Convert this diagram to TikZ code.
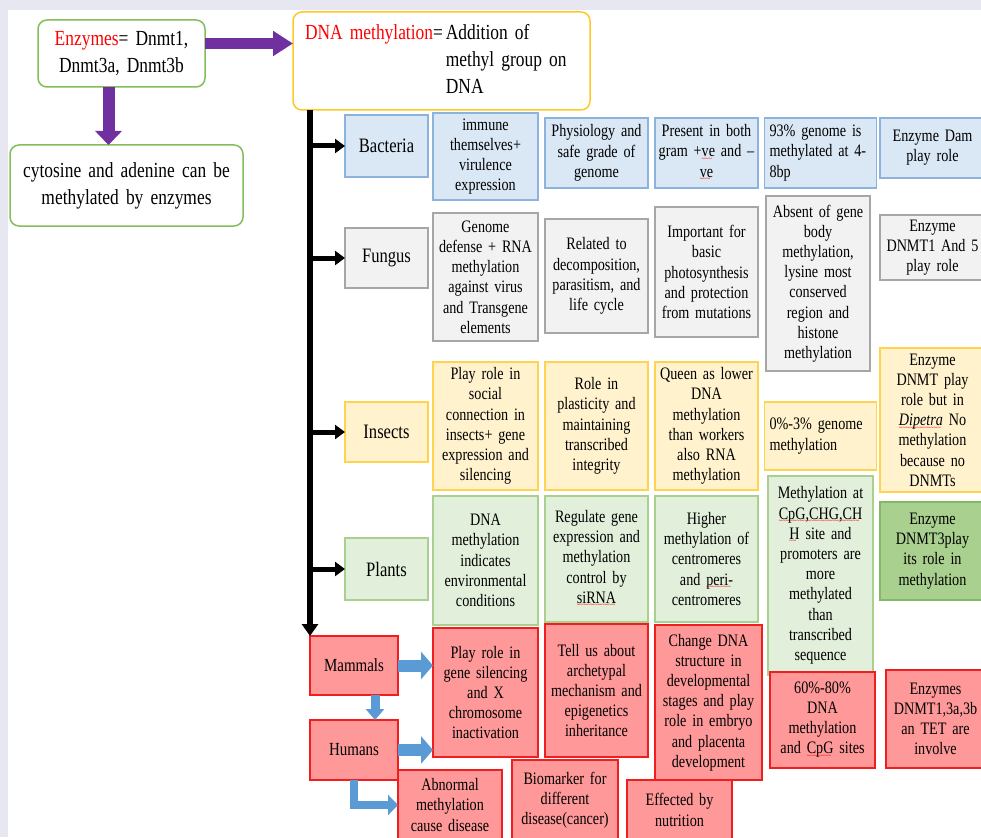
\documentclass[tikz,border=0pt]{standalone}
\usepackage{fontspec}
\setmainfont{Liberation Serif}[FakeStretch=0.81]
\usetikzlibrary{arrows.meta}
\definecolor{bgc}{RGB}{231,231,241}
\definecolor{bluF}{RGB}{218,232,246}
\definecolor{bluB}{RGB}{140,178,222}
\definecolor{grF}{RGB}{242,242,242}
\definecolor{grB}{RGB}{166,166,166}
\definecolor{yeF}{RGB}{255,242,204}
\definecolor{yeB}{RGB}{255,210,80}
\definecolor{gnF}{RGB}{226,239,218}
\definecolor{gnB}{RGB}{169,208,142}
\definecolor{gdF}{RGB}{169,208,142}
\definecolor{gdB}{RGB}{130,185,100}
\definecolor{rdF}{RGB}{255,153,153}
\definecolor{rdB}{RGB}{240,30,30}
\definecolor{topG}{RGB}{130,190,90}
\definecolor{topY}{RGB}{255,200,40}
\definecolor{purp}{RGB}{112,48,160}
\definecolor{bluA}{RGB}{91,155,213}
\newcommand\bodysp{\spaceskip=3.1pt plus 1pt minus 0.5pt\relax}
\newcommand\topsp{\spaceskip=3.6pt plus 1pt minus 0.5pt\relax}
\newsavebox\sqbox
\newcommand\sq[1]{\leavevmode\sbox\sqbox{#1}\rlap{\color{red}\leaders\hbox{\fontsize{8}{8}\selectfont\raisebox{-4.5pt}{\char126}}\hskip\wd\sqbox}\usebox\sqbox}
\newcommand\bx[7]{%
  \pgfmathsetmacro\bw{#4-#2}\pgfmathsetmacro\bh{#5-#3}%
  \pgfmathsetmacro\tw{#4-#2-7}%
  \pgfmathsetmacro\cx{(#2+#4)/2}\pgfmathsetmacro\cy{(#3+#5)/2}%
  \node[#6, minimum width=\bw pt, minimum height=\bh pt, text width=\tw pt] (#1) at (\cx,\cy) {#7};}
\tikzset{
  base/.style={draw, line width=1.3pt, inner xsep=3.5pt, inner ysep=0pt, outer sep=0pt, align=center, font=\fontsize{17.5}{20.2}\selectfont\bodysp},
  blu/.style={base, draw=bluB, fill=bluF},
  gry/.style={base, draw=grB, fill=grF},
  yel/.style={base, draw=yeB, fill=yeF},
  grn/.style={base, draw=gnB, fill=gnF},
  gdk/.style={base, draw=gdB, fill=gdF},
  red/.style={base, draw=rdB, fill=rdF},
  cat/.style={font=\fontsize{20.5}{24}\selectfont},
  mcat/.style={font=\fontsize{18.5}{22}\selectfont},
  lft/.style={align=left, inner xsep=5pt},
  topbox/.style={draw, line width=1.5pt, rounded corners=9pt, fill=white, align=center, inner sep=0pt, outer sep=0pt, font=\fontsize{21.5}{27}\selectfont\topsp},
  purpleR/.style={draw=purp, line width=11pt, -{Triangle[width=24pt,length=20pt]}},
  purpleD/.style={draw=purp, line width=12pt, -{Triangle[width=26pt,length=14pt]}},
  branch/.style={draw=black, line width=5pt, -{Triangle[width=14pt,length=10pt]}},
  blueR/.style={draw=bluA, line width=12pt, -{Triangle[width=27pt,length=12pt]}},
  blueD/.style={draw=bluA, line width=9pt, -{Triangle[width=18pt,length=11pt]}},
  blueL/.style={draw=bluA, line width=8pt, -{Triangle[width=20pt,length=10pt]}},
}
\begin{document}
\begin{tikzpicture}[x=1pt,y=-1pt]
\useasboundingbox (0,0) rectangle (981,837);
\fill[bgc] (0,0) rectangle (981,837);
\fill[white] (8,10) rectangle (981,837);

% top boxes
\bx{enz}{38}{20}{205}{87}{topbox, draw=topG}{\textcolor{red}{Enzymes}= Dnmt1,\\Dnmt3a, Dnmt3b}
\bx{cyt}{10}{145}{243}{226}{topbox, draw=topG}{cytosine and adenine can be\\methylated by enzymes}
\node[topbox, draw=topY, minimum width=297pt, minimum height=98pt, text width=273pt, inner xsep=12pt, align=left] (dna) at (441.5,61)
  {\raisebox{-2pt}{\begin{tabular}{@{}l@{\hspace{3pt}}l@{}}\textcolor{red}{DNA methylation}= & Addition of\\ & methyl group on\\ & DNA\end{tabular}}};

\draw[purpleR] ([yshift=10pt]enz.east) -- ([yshift=10pt]enz.east -| dna.west);
\draw[purpleD] ([xshift=-13pt]enz.south) -- ([xshift=-13pt]enz.south |- cyt.north);

% Bacteria row
\bx{bac}{345}{115}{428}{177}{blu,cat}{Bacteria}
\bx{b1}{433}{113}{538}{200}{blu}{immune\\themselves+\\virulence\\expression}
\bx{b2}{545}{118}{648}{188}{blu}{Physiology and\\safe grade of\\genome}
\bx{b3}{655}{118}{758}{188}{blu}{Present in both\\gram +\sq{ve} and –\\\sq{ve}}
\bx{b4}{766}{118}{875}{188}{blu,lft}{93\% genome is\\methylated at 4-\\8bp}
\bx{b5}{880}{118}{985}{178}{blu}{Enzyme Dam\\play role}

% Fungus row
\bx{fun}{345}{228}{428}{288}{gry,cat}{Fungus}
\bx{f1}{433}{213}{538}{341}{gry}{Genome\\defense + RNA\\methylation\\against virus\\and Transgene\\elements}
\bx{f2}{545}{219}{648}{333}{gry}{Related to\\decomposition,\\parasitism, and\\life cycle}
\bx{f3}{655}{207}{758}{337}{gry}{Important for\\basic\\photosynthesis\\and protection\\from mutations}
\bx{f4}{766}{196}{870}{371}{gry}{Absent of gene\\body\\methylation,\\lysine most\\conserved\\region and\\histone\\methylation}
\bx{f5}{880}{215}{985}{280}{gry}{Enzyme\\DNMT1 And 5\\play role}

% Insects row
\bx{ins}{345}{402}{428}{462}{yel,cat}{Insects}
\bx{i1}{433}{362}{538}{490}{yel}{Play role in\\social\\connection in\\insects+ gene\\expression and\\silencing}
\bx{i2}{545}{362}{648}{490}{yel}{Role in\\plasticity and\\maintaining\\transcribed\\integrity}
\bx{i3}{655}{362}{758}{490}{yel}{Queen as lower\\DNA\\methylation\\than workers\\also RNA\\methylation}
\bx{i4}{766}{402}{875}{470}{yel,lft}{0\%-3\% genome\\methylation}
\bx{i5}{880}{348}{985}{492}{yel}{Enzyme\\DNMT play\\role but in\\\textit{\sq{Dipetra}} No\\methylation\\because no\\DNMTs}

% Plants row
\bx{pla}{345}{538}{428}{600}{grn,cat}{Plants}
\bx{p1}{433}{496}{538}{625}{grn}{DNA\\methylation\\indicates\\environmental\\conditions}
\bx{p2}{545}{496}{648}{622}{grn}{Regulate gene\\expression and\\methylation\\control by\\\sq{siRNA}}
\bx{p3}{655}{496}{758}{622}{grn}{Higher\\methylation of\\centromeres\\and \sq{peri-}\\centromeres}
\bx{p4}{768}{476}{873}{675}{grn}{Methylation at\\\sq{CpG,CHG,CH}\\\sq{H} site and\\promoters are\\more\\methylated\\than\\transcribed\\sequence}
\bx{p5}{880}{502}{985}{600}{gdk}{Enzyme\\DNMT3play\\its role in\\methylation}

% Mammals / Humans
\bx{mam}{310}{636}{398}{695}{red,mcat}{Mammals}
\bx{hum}{310}{720}{398}{780}{red,mcat}{Humans}
\bx{m1}{433}{628}{538}{757}{red}{Play role in\\gene silencing\\and X\\chromosome\\inactivation}
\bx{m2}{545}{624}{648}{757}{red}{Tell us about\\archetypal\\mechanism and\\epigenetics\\inheritance}
\bx{m3}{655}{625}{762}{780}{red}{Change DNA\\structure in\\developmental\\stages and play\\role in embryo\\and placenta\\development}
\bx{m4}{770}{672}{875}{768}{red}{60\%-80\%\\DNA\\methylation\\and \sq{CpG} sites}
\bx{m5}{886}{670}{985}{768}{red}{Enzymes\\DNMT1,3a,3b\\an TET are\\involve}
\bx{ab}{398}{770}{502}{840}{red}{Abnormal\\methylation\\cause disease}
\bx{bio}{512}{760}{618}{840}{red}{Biomarker for\\different\\disease(cancer)}
\bx{eff}{627}{780}{732}{840}{red}{Effected by\\nutrition}

% trunk and branches
\coordinate (tr) at (310,110);
\draw[line width=6pt, -{Triangle[width=16pt,length=12pt]}] (tr) -- (tr |- mam.north);
\draw[branch] (tr |- bac.west) -- (bac.west);
\draw[branch] (tr |- fun.west) -- (fun.west);
\draw[branch] (tr |- ins.west) -- (ins.west);
\draw[branch] (tr |- pla.west) -- (pla.west);

% blue arrows
\draw[blueR] (mam.east) -- (mam.east -| m1.west);
\draw[blueR] (hum.east) -- (hum.east -| m1.west);
\draw[blueD] ([xshift=21pt]mam.south) -- ([xshift=21pt]mam.south |- hum.north);
\draw[blueL] (hum.south) |- (ab.west);
\end{tikzpicture}
\end{document}
